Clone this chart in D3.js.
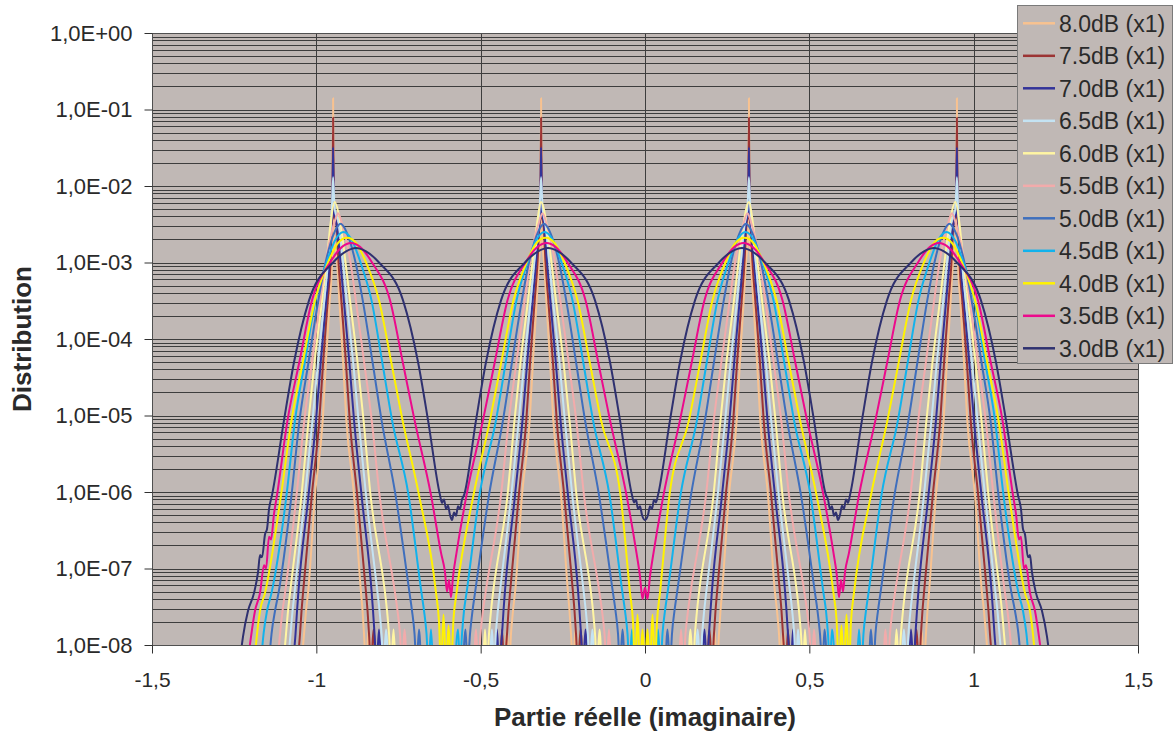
<!DOCTYPE html>
<html>
<head>
	<meta charset="utf-8">
	<script src="https://d3js.org/d3.v7.min.js"></script>
	<title>Distribution</title>
	<style>
		body { margin: 0; background: #fff; }
		text { font-family: "Liberation Sans", Arial, sans-serif; fill: #2a2a2a; }
	</style>
</head>
<body>
<div id="chart"></div>
<script type="text/javascript">

// series values: [partie reelle, distribution], 0 = nothing measured (gap)
var s80 = [[-1.0465,5e-9],[-1.0374,1.4e-8],[-1.0313,2.8e-8],[-1.0252,4.8e-8],[-1.0040,9.1e-7],[-0.9805,8.7e-6],[-0.9708,5e-5],[-0.9592,3.2e-4],[-0.9522,1e-3],[-0.9510,2.5e-3],[-0.9490,1.4e-1],[-0.9468,2.5e-3],[-0.9370,1e-3],[-0.9300,3.2e-4],[-0.9185,5e-5],[-0.9087,8.7e-6],[-0.8853,9.1e-7],[-0.8640,4.8e-8],[-0.8594,2.8e-8],[-0.8549,1.4e-8],[-0.8488,5e-9],[-0.8412,1.6e-8],[-0.8351,5e-9],[-0.6298,0],[-0.4259,5e-9],[-0.4198,1.6e-8],[-0.4137,5e-9],[-0.4077,1.4e-8],[-0.4016,2.8e-8],[-0.3955,4.8e-8],[-0.3742,9.1e-7],[-0.3508,8.7e-6],[-0.3410,5e-5],[-0.3295,3.2e-4],[-0.3225,1e-3],[-0.3182,2.5e-3],[-0.3162,1.4e-1],[-0.3140,2.5e-3],[-0.3073,1e-3],[-0.3003,3.2e-4],[-0.2887,5e-5],[-0.2790,8.7e-6],[-0.2555,9.1e-7],[-0.2343,4.8e-8],[-0.2297,2.8e-8],[-0.2251,1.4e-8],[-0.2190,5e-9],[-0.2114,1.6e-8],[-0.2054,5e-9],[0,0],
	[0.2054,5e-9],[0.2114,1.6e-8],[0.2190,5e-9],[0.2251,1.4e-8],[0.2297,2.8e-8],[0.2343,4.8e-8],[0.2555,9.1e-7],[0.2790,8.7e-6],[0.2887,5e-5],[0.3003,3.2e-4],[0.3073,1e-3],[0.3140,2.5e-3],[0.3162,1.4e-1],[0.3182,2.5e-3],[0.3225,1e-3],[0.3295,3.2e-4],[0.3410,5e-5],[0.3508,8.7e-6],[0.3742,9.1e-7],[0.3955,4.8e-8],[0.4016,2.8e-8],[0.4077,1.4e-8],[0.4137,5e-9],[0.4198,1.6e-8],[0.4259,5e-9],[0.6298,0],[0.8351,5e-9],[0.8412,1.6e-8],[0.8488,5e-9],[0.8549,1.4e-8],[0.8594,2.8e-8],[0.8640,4.8e-8],[0.8853,9.1e-7],[0.9087,8.7e-6],[0.9185,5e-5],[0.9300,3.2e-4],[0.9370,1e-3],[0.9468,2.5e-3],[0.9490,1.4e-1],[0.9510,2.5e-3],[0.9522,1e-3],[0.9592,3.2e-4],[0.9708,5e-5],[0.9805,8.7e-6],[1.0040,9.1e-7],[1.0252,4.8e-8],[1.0313,2.8e-8],[1.0374,1.4e-8],[1.0465,5e-9]];

var s75 = [[-1.0587,5e-9],[-1.0496,1.4e-8],[-1.0450,2.8e-8],[-1.0405,4.8e-8],[-1.0137,9.1e-7],[-0.9909,8.7e-6],[-0.9793,5e-5],[-0.9653,3.2e-4],[-0.9568,1e-3],[-0.9528,3.2e-3],[-0.9513,4e-3],[-0.9490,7.8e-2],[-0.9465,4e-3],[-0.9386,3.2e-3],[-0.9325,1e-3],[-0.9239,3.2e-4],[-0.9100,5e-5],[-0.8984,8.7e-6],[-0.8756,9.1e-7],[-0.8488,4.8e-8],[-0.8442,2.8e-8],[-0.8397,1.4e-8],[-0.8336,5e-9],[-0.8260,1.6e-8],[-0.8199,5e-9],[-0.6328,0],[-0.4411,5e-9],[-0.4350,1.6e-8],[-0.4290,5e-9],[-0.4198,1.4e-8],[-0.4153,2.8e-8],[-0.4107,4.8e-8],[-0.3839,9.1e-7],[-0.3611,8.7e-6],[-0.3496,5e-5],[-0.3356,3.2e-4],[-0.3270,1e-3],[-0.3210,3.2e-3],[-0.3185,4e-3],[-0.3162,7.8e-2],[-0.3137,4e-3],[-0.3088,3.2e-3],[-0.3027,1e-3],[-0.2942,3.2e-4],[-0.2802,5e-5],[-0.2686,8.7e-6],[-0.2458,9.1e-7],[-0.2190,4.8e-8],[-0.2145,2.8e-8],[-0.2099,1.4e-8],[-0.2038,5e-9],[-0.1962,1.6e-8],[-0.1901,5e-9],[0,0],
	[0.1901,5e-9],[0.1962,1.6e-8],[0.2038,5e-9],[0.2099,1.4e-8],[0.2145,2.8e-8],[0.2190,4.8e-8],[0.2458,9.1e-7],[0.2686,8.7e-6],[0.2802,5e-5],[0.2942,3.2e-4],[0.3027,1e-3],[0.3088,3.2e-3],[0.3137,4e-3],[0.3162,7.8e-2],[0.3185,4e-3],[0.3210,3.2e-3],[0.3270,1e-3],[0.3356,3.2e-4],[0.3496,5e-5],[0.3611,8.7e-6],[0.3839,9.1e-7],[0.4107,4.8e-8],[0.4153,2.8e-8],[0.4198,1.4e-8],[0.4290,5e-9],[0.4350,1.6e-8],[0.4411,5e-9],[0.6328,0],[0.8199,5e-9],[0.8260,1.6e-8],[0.8336,5e-9],[0.8397,1.4e-8],[0.8442,2.8e-8],[0.8488,4.8e-8],[0.8756,9.1e-7],[0.8984,8.7e-6],[0.9100,5e-5],[0.9239,3.2e-4],[0.9325,1e-3],[0.9386,3.2e-3],[0.9465,4e-3],[0.9490,7.8e-2],[0.9513,4e-3],[0.9528,3.2e-3],[0.9568,1e-3],[0.9653,3.2e-4],[0.9793,5e-5],[0.9909,8.7e-6],[1.0137,9.1e-7],[1.0405,4.8e-8],[1.0450,2.8e-8],[1.0496,1.4e-8],[1.0587,5e-9]];

var s70 = [[-1.0724,5e-9],[-1.0633,1.4e-8],[-1.0587,2.8e-8],[-1.0548,4.8e-8],[-1.0237,9.1e-7],[-1.0009,8.7e-6],[-0.9866,5e-5],[-0.9699,3.2e-4],[-0.9598,1e-3],[-0.9544,3.2e-3],[-0.9516,4.5e-3],[-0.9490,3.2e-2],[-0.9462,4.5e-3],[-0.9386,3.2e-3],[-0.9264,1e-3],[-0.9163,3.2e-4],[-0.8996,5e-5],[-0.8853,8.7e-6],[-0.8625,9.1e-7],[-0.8315,4.8e-8],[-0.8275,2.8e-8],[-0.8229,1.4e-8],[-0.8168,5e-9],[-0.8093,1.6e-8],[-0.8032,5e-9],[-0.6358,0],[-0.4563,5e-9],[-0.4503,1.6e-8],[-0.4442,5e-9],[-0.4350,1.4e-8],[-0.4305,2.8e-8],[-0.4265,4.8e-8],[-0.3955,9.1e-7],[-0.3727,8.7e-6],[-0.3584,5e-5],[-0.3416,3.2e-4],[-0.3316,1e-3],[-0.3216,3.2e-3],[-0.3188,4.5e-3],[-0.3162,3.2e-2],[-0.3134,4.5e-3],[-0.3073,3.2e-3],[-0.2981,1e-3],[-0.2881,3.2e-4],[-0.2714,5e-5],[-0.2571,8.7e-6],[-0.2343,9.1e-7],[-0.2032,4.8e-8],[-0.1993,2.8e-8],[-0.1947,1.4e-8],[-0.1886,5e-9],[-0.1810,1.6e-8],[-0.1749,5e-9],[0,0],
	[0.1749,5e-9],[0.1810,1.6e-8],[0.1886,5e-9],[0.1947,1.4e-8],[0.1993,2.8e-8],[0.2032,4.8e-8],[0.2343,9.1e-7],[0.2571,8.7e-6],[0.2714,5e-5],[0.2881,3.2e-4],[0.2981,1e-3],[0.3073,3.2e-3],[0.3134,4.5e-3],[0.3162,3.2e-2],[0.3188,4.5e-3],[0.3216,3.2e-3],[0.3316,1e-3],[0.3416,3.2e-4],[0.3584,5e-5],[0.3727,8.7e-6],[0.3955,9.1e-7],[0.4265,4.8e-8],[0.4305,2.8e-8],[0.4350,1.4e-8],[0.4442,5e-9],[0.4503,1.6e-8],[0.4563,5e-9],[0.6358,0],[0.8032,5e-9],[0.8093,1.6e-8],[0.8168,5e-9],[0.8229,1.4e-8],[0.8275,2.8e-8],[0.8315,4.8e-8],[0.8625,9.1e-7],[0.8853,8.7e-6],[0.8996,5e-5],[0.9163,3.2e-4],[0.9264,1e-3],[0.9386,3.2e-3],[0.9462,4.5e-3],[0.9490,3.2e-2],[0.9516,4.5e-3],[0.9544,3.2e-3],[0.9598,1e-3],[0.9699,3.2e-4],[0.9866,5e-5],[1.0009,8.7e-6],[1.0237,9.1e-7],[1.0548,4.8e-8],[1.0587,2.8e-8],[1.0633,1.4e-8],[1.0724,5e-9]];

var s65 = [[-1.0876,5e-9],[-1.0785,1.4e-8],[-1.0724,2.8e-8],[-1.0663,4.8e-8],[-1.0344,9.1e-7],[-1.0116,8.7e-6],[-0.9948,5e-5],[-0.9757,3.2e-4],[-0.9644,1e-3],[-0.9553,3.2e-3],[-0.9528,5e-3],[-0.9490,1.3e-2],[-0.9443,5e-3],[-0.9309,3.2e-3],[-0.9188,1e-3],[-0.9075,3.2e-4],[-0.8880,5e-5],[-0.8716,8.7e-6],[-0.8488,9.1e-7],[-0.8138,4.8e-8],[-0.8077,2.8e-8],[-0.8016,1.4e-8],[-0.7955,5e-9],[-0.7879,1.6e-8],[-0.7818,5e-9],[-0.6328,0],[-0.4716,5e-9],[-0.4655,1.6e-8],[-0.4594,5e-9],[-0.4539,1.4e-8],[-0.4478,2.8e-8],[-0.4417,4.8e-8],[-0.4068,9.1e-7],[-0.3839,8.7e-6],[-0.3675,5e-5],[-0.3480,3.2e-4],[-0.3368,1e-3],[-0.3246,3.2e-3],[-0.3207,5e-3],[-0.3162,1.3e-2],[-0.3115,5e-3],[-0.3033,3.2e-3],[-0.2911,1e-3],[-0.2799,3.2e-4],[-0.2604,5e-5],[-0.2440,8.7e-6],[-0.2212,9.1e-7],[-0.1862,4.8e-8],[-0.1801,2.8e-8],[-0.1740,1.4e-8],[-0.1679,5e-9],[-0.1603,1.6e-8],[-0.1542,5e-9],[0,0],
	[0.1542,5e-9],[0.1603,1.6e-8],[0.1679,5e-9],[0.1740,1.4e-8],[0.1801,2.8e-8],[0.1862,4.8e-8],[0.2212,9.1e-7],[0.2440,8.7e-6],[0.2604,5e-5],[0.2799,3.2e-4],[0.2911,1e-3],[0.3033,3.2e-3],[0.3115,5e-3],[0.3162,1.3e-2],[0.3207,5e-3],[0.3246,3.2e-3],[0.3368,1e-3],[0.3480,3.2e-4],[0.3675,5e-5],[0.3839,8.7e-6],[0.4068,9.1e-7],[0.4417,4.8e-8],[0.4478,2.8e-8],[0.4539,1.4e-8],[0.4594,5e-9],[0.4655,1.6e-8],[0.4716,5e-9],[0.6328,0],[0.7818,5e-9],[0.7879,1.6e-8],[0.7955,5e-9],[0.8016,1.4e-8],[0.8077,2.8e-8],[0.8138,4.8e-8],[0.8488,9.1e-7],[0.8716,8.7e-6],[0.8880,5e-5],[0.9075,3.2e-4],[0.9188,1e-3],[0.9309,3.2e-3],[0.9443,5e-3],[0.9490,1.3e-2],[0.9528,5e-3],[0.9553,3.2e-3],[0.9644,1e-3],[0.9757,3.2e-4],[0.9948,5e-5],[1.0116,8.7e-6],[1.0344,9.1e-7],[1.0663,4.8e-8],[1.0724,2.8e-8],[1.0785,1.4e-8],[1.0876,5e-9]];

var s60 = [[-1.1013,5e-9],[-1.0922,1.4e-8],[-1.0861,2.8e-8],[-1.0800,4.8e-8],[-1.0450,9.1e-7],[-1.0237,8.7e-6],[-1.0055,5e-5],[-0.9827,3.2e-4],[-0.9690,1e-3],[-0.9568,3.2e-3],[-0.9446,6.2e-3],[-0.9264,3.2e-3],[-0.9112,1e-3],[-0.8975,3.2e-4],[-0.8747,5e-5],[-0.8564,8.7e-6],[-0.8351,9.1e-7],[-0.7910,4.8e-8],[-0.7849,2.8e-8],[-0.7788,1.4e-8],[-0.7727,5e-9],[-0.7651,1.6e-8],[-0.7590,5e-9],[-0.6267,0],[-0.4929,5e-9],[-0.4868,1.6e-8],[-0.4807,5e-9],[-0.4746,1.4e-8],[-0.4685,2.8e-8],[-0.4624,4.8e-8],[-0.4183,9.1e-7],[-0.3970,8.7e-6],[-0.3788,5e-5],[-0.3559,3.2e-4],[-0.3423,1e-3],[-0.3286,3.2e-3],[-0.3164,6.2e-3],[-0.2997,3.2e-3],[-0.2845,1e-3],[-0.2708,3.2e-4],[-0.2479,5e-5],[-0.2297,8.7e-6],[-0.2084,9.1e-7],[-0.1643,4.8e-8],[-0.1582,2.8e-8],[-0.1521,1.4e-8],[-0.1460,5e-9],[-0.1384,1.6e-8],[-0.1323,5e-9],[0,0],
	[0.1323,5e-9],[0.1384,1.6e-8],[0.1460,5e-9],[0.1521,1.4e-8],[0.1582,2.8e-8],[0.1643,4.8e-8],[0.2084,9.1e-7],[0.2297,8.7e-6],[0.2479,5e-5],[0.2708,3.2e-4],[0.2845,1e-3],[0.2997,3.2e-3],[0.3164,6.2e-3],[0.3286,3.2e-3],[0.3423,1e-3],[0.3559,3.2e-4],[0.3788,5e-5],[0.3970,8.7e-6],[0.4183,9.1e-7],[0.4624,4.8e-8],[0.4685,2.8e-8],[0.4746,1.4e-8],[0.4807,5e-9],[0.4868,1.6e-8],[0.4929,5e-9],[0.6267,0],[0.7590,5e-9],[0.7651,1.6e-8],[0.7727,5e-9],[0.7788,1.4e-8],[0.7849,2.8e-8],[0.7910,4.8e-8],[0.8351,9.1e-7],[0.8564,8.7e-6],[0.8747,5e-5],[0.8975,3.2e-4],[0.9112,1e-3],[0.9264,3.2e-3],[0.9446,6.2e-3],[0.9568,3.2e-3],[0.9690,1e-3],[0.9827,3.2e-4],[1.0055,5e-5],[1.0237,8.7e-6],[1.0450,9.1e-7],[1.0800,4.8e-8],[1.0861,2.8e-8],[1.0922,1.4e-8],[1.1013,5e-9]];

var s55 = [[-1.1196,5e-9],[-1.1104,1.4e-8],[-1.1028,2.8e-8],[-1.0952,4.8e-8],[-1.0602,9.1e-7],[-1.0365,8.7e-6],[-1.0134,5e-5],[-0.9881,3.2e-4],[-0.9720,1e-3],[-0.9462,3.2e-3],[-0.9340,4.4e-3],[-0.9218,3.2e-3],[-0.8960,1e-3],[-0.8798,3.2e-4],[-0.8546,5e-5],[-0.8315,8.7e-6],[-0.8077,9.1e-7],[-0.7606,4.8e-8],[-0.7530,2.8e-8],[-0.7454,1.4e-8],[-0.7393,5e-9],[-0.7317,1.6e-8],[-0.7256,5e-9],[-0.6237,0],[-0.5202,5e-9],[-0.5141,1.6e-8],[-0.5081,5e-9],[-0.5005,1.4e-8],[-0.4929,2.8e-8],[-0.4852,4.8e-8],[-0.4381,9.1e-7],[-0.4144,8.7e-6],[-0.3912,5e-5],[-0.3660,3.2e-4],[-0.3499,1e-3],[-0.3240,3.2e-3],[-0.3118,4.4e-3],[-0.2997,3.2e-3],[-0.2738,1e-3],[-0.2577,3.2e-4],[-0.2324,5e-5],[-0.2093,8.7e-6],[-0.1856,9.1e-7],[-0.1384,4.8e-8],[-0.1308,2.8e-8],[-0.1232,1.4e-8],[-0.1171,5e-9],[-0.1095,1.6e-8],[-0.1034,5e-9],[0,0],
	[0.1034,5e-9],[0.1095,1.6e-8],[0.1171,5e-9],[0.1232,1.4e-8],[0.1308,2.8e-8],[0.1384,4.8e-8],[0.1856,9.1e-7],[0.2093,8.7e-6],[0.2324,5e-5],[0.2577,3.2e-4],[0.2738,1e-3],[0.2997,3.2e-3],[0.3118,4.4e-3],[0.3240,3.2e-3],[0.3499,1e-3],[0.3660,3.2e-4],[0.3912,5e-5],[0.4144,8.7e-6],[0.4381,9.1e-7],[0.4852,4.8e-8],[0.4929,2.8e-8],[0.5005,1.4e-8],[0.5081,5e-9],[0.5141,1.6e-8],[0.5202,5e-9],[0.6237,0],[0.7256,5e-9],[0.7317,1.6e-8],[0.7393,5e-9],[0.7454,1.4e-8],[0.7530,2.8e-8],[0.7606,4.8e-8],[0.8077,9.1e-7],[0.8315,8.7e-6],[0.8546,5e-5],[0.8798,3.2e-4],[0.8960,1e-3],[0.9218,3.2e-3],[0.9340,4.4e-3],[0.9462,3.2e-3],[0.9720,1e-3],[0.9881,3.2e-4],[1.0134,5e-5],[1.0365,8.7e-6],[1.0602,9.1e-7],[1.0952,4.8e-8],[1.1028,2.8e-8],[1.1104,1.4e-8],[1.1196,5e-9]];

var s50 = [[-1.1454,5e-9],[-1.1363,1.4e-8],[-1.1256,2.8e-8],[-1.1150,4.8e-8],[-1.0755,9.1e-7],[-1.0511,8.7e-6],[-1.0237,5e-5],[-0.9939,3.2e-4],[-0.9720,1e-3],[-0.9446,2.5e-3],[-0.9264,3.2e-3],[-0.9081,2.5e-3],[-0.8807,1e-3],[-0.8588,3.2e-4],[-0.8290,5e-5],[-0.8016,8.7e-6],[-0.7590,9.1e-7],[-0.7165,4.8e-8],[-0.7089,2.8e-8],[-0.7012,1.4e-8],[-0.6951,5e-9],[-0.6876,1.6e-8],[-0.6815,5e-9],[-0.6176,0],[-0.5537,5e-9],[-0.5461,1.6e-8],[-0.5400,5e-9],[-0.5324,1.4e-8],[-0.5248,2.8e-8],[-0.5172,4.8e-8],[-0.4746,9.1e-7],[-0.4320,8.7e-6],[-0.4046,5e-5],[-0.3748,3.2e-4],[-0.3529,1e-3],[-0.3255,2.5e-3],[-0.3073,3.2e-3],[-0.2890,2.5e-3],[-0.2616,1e-3],[-0.2397,3.2e-4],[-0.2099,5e-5],[-0.1825,8.7e-6],[-0.1399,9.1e-7],[-0.0974,4.8e-8],[-0.0897,2.8e-8],[-0.0821,1.4e-8],[-0.0761,5e-9],[-0.0685,1.6e-8],[-0.0624,5e-9],[0,0],
	[0.0624,5e-9],[0.0685,1.6e-8],[0.0761,5e-9],[0.0821,1.4e-8],[0.0897,2.8e-8],[0.0974,4.8e-8],[0.1399,9.1e-7],[0.1825,8.7e-6],[0.2099,5e-5],[0.2397,3.2e-4],[0.2616,1e-3],[0.2890,2.5e-3],[0.3073,3.2e-3],[0.3255,2.5e-3],[0.3529,1e-3],[0.3748,3.2e-4],[0.4046,5e-5],[0.4320,8.7e-6],[0.4746,9.1e-7],[0.5172,4.8e-8],[0.5248,2.8e-8],[0.5324,1.4e-8],[0.5400,5e-9],[0.5461,1.6e-8],[0.5537,5e-9],[0.6176,0],[0.6815,5e-9],[0.6876,1.6e-8],[0.6951,5e-9],[0.7012,1.4e-8],[0.7089,2.8e-8],[0.7165,4.8e-8],[0.7590,9.1e-7],[0.8016,8.7e-6],[0.8290,5e-5],[0.8588,3.2e-4],[0.8807,1e-3],[0.9081,2.5e-3],[0.9264,3.2e-3],[0.9446,2.5e-3],[0.9720,1e-3],[0.9939,3.2e-4],[1.0237,5e-5],[1.0511,8.7e-6],[1.0755,9.1e-7],[1.1150,4.8e-8],[1.1256,2.8e-8],[1.1363,1.4e-8],[1.1454,5e-9]];

var s45 = [[-1.1698,5e-9],[-1.1606,1.4e-8],[-1.1500,2.8e-8],[-1.1363,4.8e-8],[-1.0907,9.1e-7],[-1.0648,8.7e-6],[-1.0350,5e-5],[-1.0024,3.2e-4],[-0.9690,1e-3],[-0.9416,2e-3],[-0.9173,2.5e-3],[-0.8929,2e-3],[-0.8655,1e-3],[-0.8321,3.2e-4],[-0.7995,5e-5],[-0.7697,8.7e-6],[-0.7195,9.1e-7],[-0.6800,4.8e-8],[-0.6723,2.8e-8],[-0.6647,1.4e-8],[-0.6587,5e-9],[-0.6511,1.6e-8],[-0.6450,5e-9],[-0.6115,0],[-0.5780,5e-9],[-0.5689,1.6e-8],[-0.5628,5e-9],[-0.5567,1.4e-8],[-0.5507,2.8e-8],[-0.5430,4.8e-8],[-0.5035,9.1e-7],[-0.4533,8.7e-6],[-0.4235,5e-5],[-0.3909,3.2e-4],[-0.3575,1e-3],[-0.3301,2e-3],[-0.3058,2.5e-3],[-0.2814,2e-3],[-0.2540,1e-3],[-0.2206,3.2e-4],[-0.1880,5e-5],[-0.1582,8.7e-6],[-0.1080,9.1e-7],[-0.0685,4.8e-8],[-0.0608,2.8e-8],[-0.0532,1.4e-8],[-0.0472,5e-9],[-0.0395,1.6e-8],[-0.0335,5e-9],[0,0],
	[0.0335,5e-9],[0.0395,1.6e-8],[0.0472,5e-9],[0.0532,1.4e-8],[0.0608,2.8e-8],[0.0685,4.8e-8],[0.1080,9.1e-7],[0.1582,8.7e-6],[0.1880,5e-5],[0.2206,3.2e-4],[0.2540,1e-3],[0.2814,2e-3],[0.3058,2.5e-3],[0.3301,2e-3],[0.3575,1e-3],[0.3909,3.2e-4],[0.4235,5e-5],[0.4533,8.7e-6],[0.5035,9.1e-7],[0.5430,4.8e-8],[0.5507,2.8e-8],[0.5567,1.4e-8],[0.5628,5e-9],[0.5689,1.6e-8],[0.5780,5e-9],[0.6115,0],[0.6450,5e-9],[0.6511,1.6e-8],[0.6587,5e-9],[0.6647,1.4e-8],[0.6723,2.8e-8],[0.6800,4.8e-8],[0.7195,9.1e-7],[0.7697,8.7e-6],[0.7995,5e-5],[0.8321,3.2e-4],[0.8655,1e-3],[0.8929,2e-3],[0.9173,2.5e-3],[0.9416,2e-3],[0.9690,1e-3],[1.0024,3.2e-4],[1.0350,5e-5],[1.0648,8.7e-6],[1.0907,9.1e-7],[1.1363,4.8e-8],[1.1500,2.8e-8],[1.1606,1.4e-8],[1.1698,5e-9]];

var s40 = [[-1.1895,5e-9],[-1.1804,1.4e-8],[-1.1713,2.8e-8],[-1.1561,4.8e-8],[-1.1074,9.1e-7],[-1.0755,8.7e-6],[-1.0411,5e-5],[-1.0040,3.2e-4],[-0.9644,1e-3],[-0.9340,1.8e-3],[-0.9066,2.1e-3],[-0.8792,1.8e-3],[-0.8488,1e-3],[-0.8093,3.2e-4],[-0.7721,5e-5],[-0.7378,8.7e-6],[-0.6876,9.1e-7],[-0.6358,4.8e-8],[-0.6267,2e-8],[-0.6206,5e-9],[-0.6130,2.5e-8],[-0.6054,5e-9],[-0.5978,1.8e-8],[-0.5902,5e-9],[-0.5826,2.2e-8],[-0.5735,4.8e-8],[-0.5218,9.1e-7],[-0.4716,8.7e-6],[-0.4372,5e-5],[-0.4001,3.2e-4],[-0.3605,1e-3],[-0.3301,1.8e-3],[-0.3027,2.1e-3],[-0.2753,1.8e-3],[-0.2449,1e-3],[-0.2054,3.2e-4],[-0.1682,5e-5],[-0.1339,8.7e-6],[-0.0745,9.1e-7],[-0.0456,4.8e-8],[-0.0365,2e-8],[-0.0304,5e-9],[-0.0228,2.5e-8],[-0.0152,5e-9],[-0.0076,1.6e-8],[0,5e-9],
	[0.0076,1.6e-8],[0.0152,5e-9],[0.0228,2.5e-8],[0.0304,5e-9],[0.0365,2e-8],[0.0456,4.8e-8],[0.0745,9.1e-7],[0.1339,8.7e-6],[0.1682,5e-5],[0.2054,3.2e-4],[0.2449,1e-3],[0.2753,1.8e-3],[0.3027,2.1e-3],[0.3301,1.8e-3],[0.3605,1e-3],[0.4001,3.2e-4],[0.4372,5e-5],[0.4716,8.7e-6],[0.5218,9.1e-7],[0.5735,4.8e-8],[0.5826,2.2e-8],[0.5902,5e-9],[0.5978,1.8e-8],[0.6054,5e-9],[0.6130,2.5e-8],[0.6206,5e-9],[0.6267,2e-8],[0.6358,4.8e-8],[0.6876,9.1e-7],[0.7378,8.7e-6],[0.7721,5e-5],[0.8093,3.2e-4],[0.8488,1e-3],[0.8792,1.8e-3],[0.9066,2.1e-3],[0.9340,1.8e-3],[0.9644,1e-3],[1.0040,3.2e-4],[1.0411,5e-5],[1.0755,8.7e-6],[1.1074,9.1e-7],[1.1561,4.8e-8],[1.1713,2.8e-8],[1.1804,1.4e-8],[1.1895,5e-9]];

var s35 = [[-1.2108,5e-9],[-1.1986,1.3e-8],[-1.1865,2.8e-8],[-1.1713,4.8e-8],[-1.1591,1.1e-7],[-1.1530,1.0e-7],[-1.1439,2.6e-7],[-1.1378,2.4e-7],[-1.1287,5.2e-7],[-1.1196,9.1e-7],[-1.0876,8.7e-6],[-1.0517,5e-5],[-1.0131,3.2e-4],[-0.9583,1e-3],[-0.9218,1.6e-3],[-0.8944,1.8e-3],[-0.8671,1.6e-3],[-0.8305,1e-3],[-0.7758,3.2e-4],[-0.7371,5e-5],[-0.7012,8.7e-6],[-0.6511,9.1e-7],[-0.6206,1.6e-7],[-0.6085,8.9e-8],[-0.6024,5e-8],[-0.5963,7.1e-8],[-0.5902,4.2e-8],[-0.5841,7.9e-8],[-0.5735,1.6e-7],[-0.5430,9.1e-7],[-0.4929,8.7e-6],[-0.4570,5e-5],[-0.4183,3.2e-4],[-0.3636,1e-3],[-0.3270,1.6e-3],[-0.2997,1.8e-3],[-0.2723,1.6e-3],[-0.2358,1e-3],[-0.1810,3.2e-4],[-0.1424,5e-5],[-0.1065,8.7e-6],[-0.0563,9.1e-7],[-0.0259,1.6e-7],[-0.0152,7.9e-8],[-0.0076,4e-8],[0,5.6e-8],
	[0.0076,4e-8],[0.0152,7.9e-8],[0.0259,1.6e-7],[0.0563,9.1e-7],[0.1065,8.7e-6],[0.1424,5e-5],[0.1810,3.2e-4],[0.2358,1e-3],[0.2723,1.6e-3],[0.2997,1.8e-3],[0.3270,1.6e-3],[0.3636,1e-3],[0.4183,3.2e-4],[0.4570,5e-5],[0.4929,8.7e-6],[0.5430,9.1e-7],[0.5735,1.6e-7],[0.5841,7.9e-8],[0.5902,4.2e-8],[0.5963,7.1e-8],[0.6024,5e-8],[0.6085,8.9e-8],[0.6206,1.6e-7],[0.6511,9.1e-7],[0.7012,8.7e-6],[0.7371,5e-5],[0.7758,3.2e-4],[0.8305,1e-3],[0.8671,1.6e-3],[0.8944,1.8e-3],[0.9218,1.6e-3],[0.9583,1e-3],[1.0131,3.2e-4],[1.0517,5e-5],[1.0876,8.7e-6],[1.1196,9.1e-7],[1.1287,5.2e-7],[1.1378,2.4e-7],[1.1439,2.6e-7],[1.1530,1.0e-7],[1.1591,1.1e-7],[1.1713,4.8e-8],[1.1865,2.8e-8],[1.1986,1.3e-8],[1.2108,5e-9]];

var s30 = [[-1.2352,5e-9],[-1.2230,1.3e-8],[-1.2078,2.8e-8],[-1.1895,4.8e-8],[-1.1773,9e-8],[-1.1713,1.5e-7],[-1.1652,1.4e-7],[-1.1561,2.8e-7],[-1.1500,3.3e-7],[-1.1439,6e-7],[-1.1348,9.1e-7],[-1.0983,8.7e-6],[-1.0678,5e-5],[-1.0222,3.2e-4],[-0.9492,1e-3],[-0.9096,1.4e-3],[-0.8792,1.55e-3],[-0.8488,1.4e-3],[-0.8093,1e-3],[-0.7362,3.2e-4],[-0.6906,5e-5],[-0.6602,8.7e-6],[-0.6237,9.1e-7],[-0.6176,7.2e-7],[-0.6115,8.0e-7],[-0.6054,6.0e-7],[-0.5993,6.6e-7],[-0.5933,5.0e-7],[-0.5872,4.3e-7],[-0.5811,5.4e-7],[-0.5750,4.9e-7],[-0.5689,6.5e-7],[-0.5628,6.0e-7],[-0.5568,8.0e-7],[-0.5507,9.1e-7],[-0.5141,8.7e-6],[-0.4837,5e-5],[-0.4381,3.2e-4],[-0.3651,1e-3],[-0.3255,1.4e-3],[-0.2951,1.55e-3],[-0.2647,1.4e-3],[-0.2251,1e-3],[-0.1521,3.2e-4],[-0.1065,5e-5],[-0.0761,8.7e-6],[-0.0395,9.1e-7],[-0.0334,7.3e-7],[-0.0274,7.9e-7],[-0.0213,6.0e-7],[-0.0152,6.5e-7],[-0.0091,5.0e-7],[0,4.3e-7],
	[0.0091,5.0e-7],[0.0152,6.5e-7],[0.0213,6.0e-7],[0.0274,7.9e-7],[0.0334,7.3e-7],[0.0395,9.1e-7],[0.0761,8.7e-6],[0.1065,5e-5],[0.1521,3.2e-4],[0.2251,1e-3],[0.2647,1.4e-3],[0.2951,1.55e-3],[0.3255,1.4e-3],[0.3651,1e-3],[0.4381,3.2e-4],[0.4837,5e-5],[0.5141,8.7e-6],[0.5507,9.1e-7],[0.5568,8.0e-7],[0.5628,6.0e-7],[0.5689,6.5e-7],[0.5750,4.9e-7],[0.5811,5.4e-7],[0.5872,4.3e-7],[0.5933,5.0e-7],[0.5993,6.6e-7],[0.6054,6.0e-7],[0.6115,8.0e-7],[0.6176,7.2e-7],[0.6237,9.1e-7],[0.6602,8.7e-6],[0.6906,5e-5],[0.7362,3.2e-4],[0.8093,1e-3],[0.8488,1.4e-3],[0.8792,1.55e-3],[0.9096,1.4e-3],[0.9492,1e-3],[1.0222,3.2e-4],[1.0678,5e-5],[1.0983,8.7e-6],[1.1348,9.1e-7],[1.1439,6e-7],[1.1500,3.3e-7],[1.1561,2.8e-7],[1.1652,1.4e-7],[1.1713,1.5e-7],[1.1773,9e-8],[1.1895,4.8e-8],[1.2078,2.8e-8],[1.2230,1.3e-8],[1.2352,5e-9]];

var seriesLabels = ["8.0dB (x1)", "7.5dB (x1)", "7.0dB (x1)", "6.5dB (x1)", "6.0dB (x1)", "5.5dB (x1)",
	"5.0dB (x1)", "4.5dB (x1)", "4.0dB (x1)", "3.5dB (x1)", "3.0dB (x1)"];
var seriesColors = ["#f8c290", "#9c3434", "#333399", "#c4e3f3", "#fff5a3", "#f2abab",
	"#3f6fbd", "#12b2ec", "#fff200", "#ec0a8c", "#2f3170"];
var seriesData = [s80, s75, s70, s65, s60, s55, s50, s45, s40, s35, s30];

var yTicks = [1, 1e-1, 1e-2, 1e-3, 1e-4, 1e-5, 1e-6, 1e-7, 1e-8];
var yTickLabels = ["1,0E+00", "1,0E-01", "1,0E-02", "1,0E-03", "1,0E-04", "1,0E-05", "1,0E-06", "1,0E-07", "1,0E-08"];
var xTicks = [-1.5, -1, -0.5, 0, 0.5, 1, 1.5];
var xTickLabels = ["-1,5", "-1", "-0,5", "0", "0,5", "1", "1,5"];

var width = 1175, height = 736;
var plotL = 152, plotR = 1138, plotT = 33, plotB = 645;
var plotBg = "#c0b8b5";

var svg = d3.select("#chart").append("svg")
	.attr("width", width)
	.attr("height", height);

svg.append("rect").attr("width", width).attr("height", height).attr("fill", "#fff");

var x = d3.scaleLinear().domain([-1.5, 1.5]).range([plotL, plotR]);
var y = d3.scaleLog().domain([1e-8, 1]).range([plotB, plotT]);

svg.append("rect")
	.attr("x", plotL).attr("y", plotT)
	.attr("width", plotR - plotL).attr("height", plotB - plotT)
	.attr("fill", plotBg);

// horizontal grid on every log tick
svg.append("g").selectAll("line")
	.data(y.ticks())
	.enter().append("line")
	.attr("x1", plotL).attr("x2", plotR)
	.attr("y1", function(d){ return Math.round(y(d)) + 0.5; })
	.attr("y2", function(d){ return Math.round(y(d)) + 0.5; })
	.attr("stroke", "#3d3d3d")
	.attr("stroke-width", 1);

svg.append("g").selectAll("line")
	.data(xTicks.slice(1, -1))
	.enter().append("line")
	.attr("y1", plotT).attr("y2", plotB)
	.attr("x1", function(d){ return Math.round(x(d)) + 0.5; })
	.attr("x2", function(d){ return Math.round(x(d)) + 0.5; })
	.attr("stroke", "#3d3d3d")
	.attr("stroke-width", 1);

svg.append("clipPath").attr("id", "plotclip")
	.append("rect")
	.attr("x", plotL).attr("y", plotT)
	.attr("width", plotR - plotL).attr("height", plotB - plotT);

var line = d3.line()
	.defined(function(d){ return d[1] > 0; })
	.x(function(d){ return x(d[0]); })
	.y(function(d){ return y(d[1]); })
	.curve(d3.curveMonotoneX);

svg.append("g").attr("clip-path", "url(#plotclip)")
	.selectAll("path")
	.data(seriesData)
	.enter().append("path")
	.attr("d", function(d){ return line(d); })
	.attr("fill", "none")
	.attr("stroke", function(d, i){ return seriesColors[i]; })
	.attr("stroke-width", 2)
	.attr("stroke-linejoin", "round");

svg.append("rect")
	.attr("x", plotL + 0.5).attr("y", plotT + 0.5)
	.attr("width", plotR - plotL).attr("height", plotB - plotT)
	.attr("fill", "none")
	.attr("stroke", "#505050");

// axes
var yAxis = svg.append("g")
	.attr("transform", "translate(" + (plotL + 0.5) + ",0)")
	.call(d3.axisLeft(y).tickValues(yTicks)
		.tickFormat(function(d, i){ return yTickLabels[i]; })
		.tickSize(8).tickPadding(12));
yAxis.select(".domain").remove();
yAxis.selectAll("line").attr("stroke", "#303030");
yAxis.selectAll("text").style("font-size", "22px").attr("fill", "#2a2a2a")
	.style("font-family", "Liberation Sans, Arial, sans-serif");

var xAxis = svg.append("g")
	.attr("transform", "translate(0," + (plotB + 0.5) + ")")
	.call(d3.axisBottom(x).tickValues(xTicks)
		.tickFormat(function(d, i){ return xTickLabels[i]; })
		.tickSize(8).tickPadding(19));
xAxis.select(".domain").remove();
xAxis.selectAll("line").attr("stroke", "#303030");
xAxis.selectAll("text").style("font-size", "21px").attr("fill", "#2a2a2a")
	.style("font-family", "Liberation Sans, Arial, sans-serif");

svg.append("text")
	.attr("x", (plotL + plotR) / 2).attr("y", 726)
	.attr("text-anchor", "middle")
	.style("font-size", "26px").style("font-weight", "bold")
	.text("Partie réelle (imaginaire)");

svg.append("text")
	.attr("transform", "translate(31," + ((plotT + plotB) / 2) + ") rotate(-90)")
	.attr("text-anchor", "middle")
	.style("font-size", "26px").style("font-weight", "bold")
	.text("Distribution");

// legend
var legend = svg.append("g");
legend.append("rect")
	.attr("x", 1017.5).attr("y", 5.5)
	.attr("width", 155).attr("height", 358)
	.attr("fill", plotBg)
	.attr("stroke", "#7a7a7a");

var items = legend.selectAll(".item")
	.data(seriesLabels)
	.enter().append("g")
	.attr("class", "item")
	.attr("transform", function(d, i){ return "translate(0," + (23.3 + i * 32.5) + ")"; });

items.append("line")
	.attr("x1", 1023).attr("x2", 1055)
	.attr("stroke", function(d, i){ return seriesColors[i]; })
	.attr("stroke-width", 2.5);

items.append("text")
	.attr("x", 1059).attr("dy", "0.36em")
	.style("font-size", "23px")
	.text(function(d){ return d; });

</script>
</body>
</html>
